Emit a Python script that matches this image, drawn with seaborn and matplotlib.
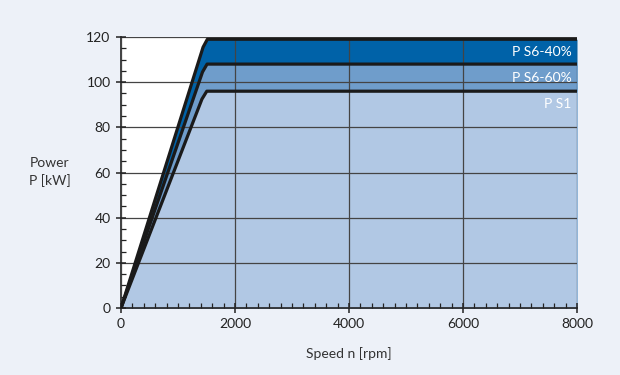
import matplotlib
matplotlib.use("Agg")
import matplotlib.pyplot as plt
import seaborn as sns
import pandas as pd
from matplotlib.ticker import MultipleLocator

speed_40 = [0, 1440, 1515, 8000]
speed_60 = [0, 1430, 1510, 8000]
speed_s1 = [0, 1420, 1505, 8000]
p_s6_40 = [0, 115.5, 119, 119]
p_s6_60 = [0, 104.5, 108, 108]
p_s1 = [0, 92.5, 96, 96]
series_names = ["P S6-40%", "P S6-60%", "P S1"]
x_ticks = [0, 2000, 4000, 6000, 8000]
y_ticks = [0, 20, 40, 60, 80, 100, 120]

sns.set_theme(style="white")
plt.rcParams['font.family'] = ['Lato', 'DejaVu Sans']

bg = "#edf1f8"
fig = plt.figure(figsize=(6.2, 3.75), dpi=100, facecolor=bg)
ax = fig.add_axes([121/620, 1-308/375, (577-121)/620, (308-37)/375])
ax.set_facecolor("white")

df = pd.DataFrame({"speed": speed_40 + speed_60 + speed_s1,
                   "power": p_s6_40 + p_s6_60 + p_s1,
                   "series": [series_names[0]]*4 + [series_names[1]]*4 + [series_names[2]]*4})

fills = ["#0062a8", "#6f9dcb", "#b1c8e4"]
for name, col in zip(series_names, fills):
    sub = df[df.series == name]
    ax.fill_between(sub.speed, sub.power, 0, color=col, lw=0, zorder=1)

ax.set_xlim(0, 8000)
ax.set_ylim(0, 120)
ax.set_xticks(x_ticks)
ax.set_yticks(y_ticks)
ax.set_xticklabels([str(v) for v in x_ticks])
ax.set_yticklabels([str(v) for v in y_ticks])
ax.xaxis.set_minor_locator(MultipleLocator(200))
ax.yaxis.set_minor_locator(MultipleLocator(5))
ax.grid(True, which="major", color="#444444", lw=0.9, zorder=2)
ax.set_axisbelow(False)

sns.lineplot(data=df, x="speed", y="power", units="series", estimator=None,
             color="#1a1a1a", lw=2.3, ax=ax, zorder=3, legend=False)

for s in ["top", "right"]:
    ax.spines[s].set_visible(False)
for s in ["left", "bottom"]:
    ax.spines[s].set_color("#222222")
    ax.spines[s].set_linewidth(1.2)

ax.tick_params(axis="both", which="major", direction="inout", length=7, width=1.1,
               color="#222222", labelsize=10, labelcolor="#222222", pad=4, bottom=True, left=True)
ax.tick_params(axis="both", which="minor", direction="in", length=3.5, width=0.9,
               color="#222222", bottom=True, left=True)

ax.set_xlabel("Speed n [rpm]", fontsize=10, color="#333333", labelpad=12)
ax.set_ylabel("")
fig.text(50/620, 1-172/375, "Power\nP [kW]", ha="center", va="center",
         fontsize=10, color="#333333", linespacing=1.4)

label_y = [113.5, 102, 90.5]
for name, yv in zip(series_names, label_y):
    ax.text(7900, yv, name, ha="right", va="center", color="white", fontsize=10, zorder=5)

fig.savefig("out.png", dpi=100, facecolor=bg)
